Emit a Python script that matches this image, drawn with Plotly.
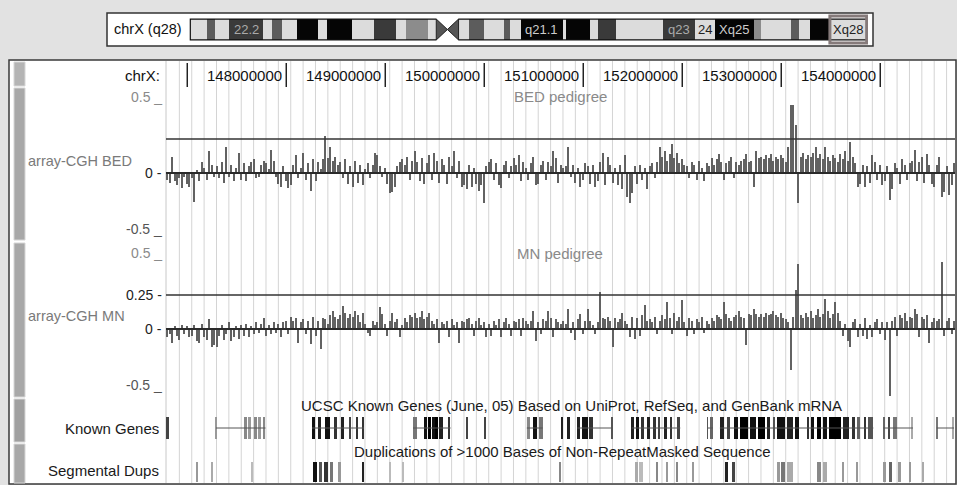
import numpy as np
import plotly.graph_objects as go

W, H = 957, 485

# ---------------- data ----------------
VIEW_START_MB = 146.785
VIEW_END_MB = 154.755
CHROM_LEN_MB = 154.82

RULER_TICKS_MB = [147, 148, 149, 150, 151, 152, 153, 154]
RULER_LABELS = ["", "148000000", "149000000", "150000000", "151000000",
                "152000000", "153000000", "154000000"]

PROBE_START_MB = 146.785
PROBE_STEP_MB = 0.025
THRESHOLD = 0.25

# array-CGH log2 ratios, in hundredths
BED_VALUES = [
    -5, -7, 12, -6, -9, -4, -11, -3, -8, -10,
    -4, -21, 2, -6, 8, 4, -5, 16, 6, -3,
    5, -4, 8, -7, 19, -3, 6, -6, 4, 15,
    -5, 7, -6, 5, 8, 10, -4, -3, 6, 9,
    7, 3, 17, 9, -3, -8, -10, 5, -6, -11,
    -9, 6, 13, -4, 4, 15, -5, 7, -13, 10,
    -6, 8, 3, 10, 27, 11, 19, 9, 12, 6,
    8, -4, 10, -8, 5, -10, 9, -7, 6, -9,
    3, 7, -4, 6, 15, 13, 5, -3, 4, -8,
    -15, -14, -10, 5, 8, 10, 6, 12, -5, 9,
    16, 8, -6, 11, -8, 7, 13, -5, 15, 9,
    -7, 10, 6, -8, 12, 5, 16, -4, 9, -10,
    -9, -12, 6, -10, 4, -8, -13, -9, -22, 5,
    8, 10, -5, 7, -9, -11, 6, 9, -4, 5,
    11, 6, 13, -6, 8, 4, -5, 7, 12, -9,
    -8, 6, 9, -5, 8, 5, 16, 11, -7, 6,
    4, 5, 19, -3, 6, -7, 4, -10, -5, 7,
    5, -8, 6, -10, -6, 8, 15, -9, 12, 6,
    -7, 4, -9, 6, -12, 13, -18, -22, -15, 5,
    -8, 6, -5, 4, -12, 5, 7, -4, 8, 19,
    12, 16, 9, 14, 21, 11, 15, 7, 10, 6,
    5, -4, 8, 6, -5, 9, 4, -6, 7, 5,
    11, 6, 10, 14, 8, -5, 7, 9, 12, -4,
    8, 6, 9, 10, 14, 8, 9, -10, 16, 11,
    12, 10, 13, 11, 14, 9, 12, 10, 13, 11,
    8, 19, 50, 50, 35, -22, 12, 15, 10, 13,
    12, 15, 19, 11, 14, 10, 19, 12, 9, 13,
    11, 8, 14, 10, 16, 9, 23, 12, 7, -10,
    -8, 6, -10, 5, -7, 13, 8, -5, 6, -9,
    -6, 5, -20, -12, 7, 4, -8, 10, 6, -5,
    7, 9, 17, -6, 8, 12, -7, 14, 6, -8,
    -10, 6, 12, -18, -14, 5, -16, -9, 7, -6,
]

MN_VALUES = [
    -6, -4, -10, 2, -5, -8, 3, -4, 2, -6,
    -5, 3, -9, -10, 4, -6, -8, 7, -13, -12,
    -13, -5, 3, -8, -4, 5, -9, -6, 2, -7,
    3, -5, 4, -6, 2, -4, 5, -3, 4, 8,
    -5, 3, -4, 5, -3, 4, -6, 5, 6, -4,
    9, 6, 8, -10, 5, 7, -4, 6, -11, 9,
    -5, 6, -15, 8, 7, 4, 10, 13, 9, 7,
    10, 17, 12, 8, 11, 9, 13, 10, 5, 12,
    4, -3, -5, 6, 3, 5, 16, 11, 4, -5,
    6, 12, 5, 7, -6, 3, 8, 5, 10, 9,
    12, 8, 9, 13, 7, 9, 12, 6, 4, 7,
    -10, 5, 4, 6, -6, 7, 3, 5, -10, 6,
    5, 7, 8, 4, -5, 6, 8, 3, 5, -6,
    4, -5, 6, 3, 7, -6, 5, 8, 4, -5,
    6, 5, 7, -5, 8, 6, 4, 6, 13, -9,
    5, -4, 7, 6, 13, 8, -6, 7, 5, 4,
    6, 4, 15, -3, 5, -8, 7, 11, -4, 6,
    15, 6, 3, -4, 5, 27, 8, 7, 9, 6,
    -13, 8, 5, 7, 12, 6, 4, -6, 9, -7,
    8, -5, 10, 18, 6, 7, 5, 9, -4, 6,
    10, 7, 20, 8, -4, 12, 6, 9, 21, 5,
    -5, 8, 6, -4, 7, 5, 9, -3, 6, 4,
    8, 6, 10, 9, 7, 20, 11, 8, 6, 9,
    10, 13, 9, 8, -12, 11, 10, 15, 11, 9,
    11, 9, 12, 10, 11, 13, 10, 9, 12, 8,
    7, 5, -30, 9, 29, 48, 10, 8, 12, 9,
    13, 8, 10, 15, 9, 11, 22, 13, 8, 11,
    20, 12, 6, -5, 4, -9, -13, 5, 7, -6,
    4, -5, 8, -7, 3, -6, 5, 7, -4, 5,
    -8, 5, -49, 6, 9, -5, 10, 8, 12, 6,
    9, 8, 15, 11, -6, 9, 7, 10, -10, 5,
    8, 6, 7, 49, -5, 6, 8, -4, 6, 5,
]

# Known Genes: transcript lines and exon blocks (Mb)
GENE_LINE_START = [147.29, 148.26, 149.28, 150.43, 150.94, 151.49, 152.25, 152.38, 154.03, 154.57]
GENE_LINE_END = [147.79, 148.785, 149.66, 150.59, 151.30, 151.98, 152.31, 153.93, 154.33, 154.745]

EXON_START = [146.795, 147.29, 147.58, 147.62, 147.68, 147.72, 147.76,
              148.26, 148.32, 148.39, 148.49, 148.56, 148.64, 148.71, 148.77,
              149.28, 149.40, 149.43, 149.47, 149.51, 149.54, 149.64, 149.825,
              150.00, 150.43, 150.49, 150.55, 150.78, 150.84,
              150.94, 150.99, 151.06, 151.29,
              151.49, 151.53, 151.59, 151.65, 151.70, 151.76, 151.82, 151.88, 151.95,
              152.25, 152.29,
              152.38, 152.45, 152.52, 152.58, 152.68, 152.76, 152.86, 152.92, 152.96,
              153.06, 153.14, 153.26, 153.30, 153.36, 153.42, 153.48, 153.62, 153.72,
              153.76, 153.84, 153.88,
              154.03, 154.08, 154.13, 154.32, 154.57, 154.72]
EXON_END = [146.812, 147.30, 147.60, 147.64, 147.70, 147.74, 147.79,
            148.29, 148.35, 148.44, 148.51, 148.58, 148.655, 148.725, 148.785,
            149.32, 149.42, 149.46, 149.50, 149.53, 149.58, 149.655, 149.84,
            150.015, 150.46, 150.53, 150.59, 150.80, 150.87,
            150.97, 151.05, 151.10, 151.30,
            151.51, 151.56, 151.61, 151.67, 151.73, 151.78, 151.85, 151.90, 151.98,
            152.26, 152.31,
            152.42, 152.48, 152.56, 152.66, 152.74, 152.84, 152.89, 152.94, 153.04,
            153.12, 153.18, 153.28, 153.33, 153.40, 153.46, 153.60, 153.68, 153.74,
            153.80, 153.86, 153.93,
            154.05, 154.10, 154.17, 154.335, 154.585, 154.745]
EXON_SHADE = ["#444", "#999", "#888", "#999", "#888", "#999", "#888",
              "#111", "#222", "#111", "#333", "#222", "#444", "#333", "#333",
              "#777", "#111", "#000", "#111", "#000", "#222", "#333", "#444",
              "#444", "#888", "#111", "#777", "#222", "#222",
              "#222", "#111", "#333", "#555",
              "#222", "#111", "#333", "#222", "#333", "#444", "#222", "#333", "#444",
              "#555", "#666",
              "#222", "#444", "#111", "#000", "#111", "#000", "#222", "#555", "#111",
              "#222", "#111", "#333", "#111", "#000", "#111", "#000", "#222", "#333",
              "#666", "#333", "#555",
              "#666", "#444", "#777", "#aaa", "#777", "#aaa"]

# Segmental duplications (Mb)
SD_START = [147.095, 147.245, 147.65, 148.27, 148.33, 148.38, 148.44, 148.52, 148.77,
            149.04, 149.17, 150.76, 151.52, 151.56, 151.74, 151.84, 151.94, 152.10,
            152.43, 152.50, 152.96, 153.00, 153.06, 153.36, 153.42, 153.62, 153.76,
            154.03, 154.09, 154.18, 154.30, 154.43]
SD_END = [147.105, 147.255, 147.665, 148.31, 148.36, 148.42, 148.47, 148.55, 148.79,
          149.055, 149.185, 150.775, 151.55, 151.60, 151.755, 151.855, 151.955, 152.115,
          152.46, 152.53, 152.99, 153.04, 153.12, 153.40, 153.46, 153.635, 153.775,
          154.06, 154.12, 154.21, 154.315, 154.445]
SD_SHADE = ["#999", "#aaa", "#bbb", "#111", "#555", "#333", "#777", "#999", "#222",
            "#bbb", "#bbb", "#888", "#aaa", "#bbb", "#888", "#999", "#888", "#999",
            "#222", "#444", "#999", "#777", "#aaa", "#888", "#aaa", "#999", "#999",
            "#999", "#666", "#999", "#999", "#aaa"]

# Ideogram bands of chrX (Mb)
BAND_START = [0, 3.9, 5.7, 8.9, 16.6, 18.8, 21, 24.4, 29.2, 31.2, 36.9, 42, 47, 49.3, 54.4,
              61.4, 63.9, 67.2, 71.8, 73.1, 75.6, 85.2, 86, 91.4, 93.4, 97.5, 103.2,
              108.2, 115.5, 120, 129, 130.7, 137.4, 139.3, 141.9, 146.4]
BAND_END = [3.9, 5.7, 8.9, 16.6, 18.8, 21, 24.4, 29.2, 31.2, 36.9, 42, 47, 49.3, 54.4, 56.3,
            63.9, 67.2, 71.8, 73.1, 75.6, 85.2, 86, 91.4, 93.4, 97.5, 103.2, 108.2,
            115.5, 120, 129, 130.7, 137.4, 139.3, 141.9, 146.4, 154.82]
BAND_STAIN = ["gneg", "gpos50", "gneg", "gpos75", "gneg", "gpos50", "gneg", "gpos100", "gneg",
              "gpos100", "gneg", "gpos75", "gneg", "gpos25", "gneg",
              "gneg", "gpos50", "gneg", "gpos50", "gneg", "gpos100", "gneg", "gpos100", "gneg",
              "gpos75", "gneg", "gneg", "gpos75", "gneg", "gpos100", "gpos25", "gneg",
              "gpos50", "gneg", "gpos100", "gneg"]
BAND_LABEL = ["", "", "", "22.2", "", "", "", "", "", "", "", "", "", "", "",
              "", "", "", "", "", "q21.1", "", "", "", "", "", "",
              "q23", "24", "Xq25", "", "", "", "", "", "Xq28"]
CENTROMERE_MB = (56.3, 61.4)
HIGHLIGHT_MB = (146.4, 154.82)

# ---------------- helpers ----------------
def px(x):
    return x / W


def py(y):
    return 1 - y / H


STAIN_COLOR = {"gneg": "#dcdcdc", "gpos25": "#8c8c8c", "gpos50": "#5c5c5c",
               "gpos75": "#3a3a3a", "gpos100": "#050505"}
STAIN_TEXT = {"gneg": "#222", "gpos25": "#eee", "gpos50": "#ddd",
              "gpos75": "#aaa", "gpos100": "#ccc"}

FONT = "Liberation Sans, Arial, sans-serif"

fig = go.Figure()

probe_pos = PROBE_START_MB + PROBE_STEP_MB * (np.arange(len(BED_VALUES)) + 0.5)

# --- wiggle tracks ---
for vals, yax in ((BED_VALUES, "y"), (MN_VALUES, "y2")):
    v = np.array(vals) / 100.0
    fig.add_trace(go.Bar(x=probe_pos, y=v, width=0.013, xaxis="x", yaxis=yax,
                         marker=dict(color="#626262", line=dict(width=0)),
                         hoverinfo="skip", showlegend=False))
    fig.add_trace(go.Scatter(x=[VIEW_START_MB, VIEW_END_MB], y=[0, 0], xaxis="x", yaxis=yax,
                             mode="lines", line=dict(color="#2a2a2a", width=2),
                             hoverinfo="skip", showlegend=False))
    fig.add_trace(go.Scatter(x=[VIEW_START_MB, VIEW_END_MB], y=[THRESHOLD, THRESHOLD],
                             xaxis="x", yaxis=yax, mode="lines",
                             line=dict(color="#333", width=1.6),
                             hoverinfo="skip", showlegend=False))

# --- known genes ---
lx, ly = [], []
for s, e in zip(GENE_LINE_START, GENE_LINE_END):
    lx += [s, e, None]
    ly += [0.5, 0.5, None]
fig.add_trace(go.Scatter(x=lx, y=ly, xaxis="x", yaxis="y3", mode="lines",
                         line=dict(color="#555", width=1), hoverinfo="skip", showlegend=False))
fig.add_trace(go.Bar(base=EXON_START, x=[e - s for s, e in zip(EXON_START, EXON_END)],
                     y=[0.5] * len(EXON_START), width=1, orientation="h",
                     xaxis="x", yaxis="y3", marker=dict(color=EXON_SHADE, line=dict(width=0)),
                     hoverinfo="skip", showlegend=False))

# --- segmental dups ---
fig.add_trace(go.Bar(base=SD_START, x=[e - s for s, e in zip(SD_START, SD_END)],
                     y=[0.5] * len(SD_START), width=1, orientation="h",
                     xaxis="x", yaxis="y4", marker=dict(color=SD_SHADE, line=dict(width=0)),
                     hoverinfo="skip", showlegend=False))

# --- ideogram ---
fig.add_trace(go.Bar(base=BAND_START, x=[e - s for s, e in zip(BAND_START, BAND_END)],
                     y=[0.5] * len(BAND_START), width=1, orientation="h",
                     xaxis="x2", yaxis="y5",
                     marker=dict(color=[STAIN_COLOR[s] for s in BAND_STAIN],
                                 line=dict(width=0)),
                     hoverinfo="skip", showlegend=False))
c0, c1 = CENTROMERE_MB
cm = (c0 + c1) / 2
fig.add_trace(go.Scatter(x=[c0, cm, c0, c0, None, c1, cm, c1, c1],
                         y=[1, 0.5, 0, 1, None, 1, 0.5, 0, 1],
                         xaxis="x2", yaxis="y5", mode="lines", fill="toself",
                         fillcolor="#555", line=dict(color="#222", width=1),
                         hoverinfo="skip", showlegend=False))
fig.add_trace(go.Scatter(x=[c0, 0, 0, c0, None, c1, CHROM_LEN_MB, CHROM_LEN_MB, c1],
                         y=[1, 1, 0, 0, None, 1, 1, 0, 0],
                         xaxis="x2", yaxis="y5", mode="lines",
                         line=dict(color="#111", width=1.2),
                         hoverinfo="skip", showlegend=False))

# ---------------- shapes ----------------
shapes = []
shapes.append(dict(type="rect", xref="paper", yref="paper", x0=px(9), x1=px(956),
                   y0=py(484), y1=py(60), fillcolor="white",
                   line=dict(color="#3a3a3a", width=1.5), layer="below"))
shapes.append(dict(type="rect", xref="paper", yref="paper", x0=px(107), x1=px(873),
                   y0=py(46), y1=py(13), fillcolor="white",
                   line=dict(color="#333", width=1.5), layer="below"))
for y0, y1, col in ((62, 86, "#b4b4b4"), (88, 240, "#a8a8a8"), (243, 397, "#a8a8a8"),
                    (399, 442, "#a0a0a0"), (444, 483, "#a8a8a8")):
    shapes.append(dict(type="rect", xref="paper", yref="paper", x0=px(14), x1=px(25),
                       y0=py(y1), y1=py(y0), fillcolor=col,
                       line=dict(color="#d6d6d6", width=1), layer="below"))
for g in np.arange(146.92, VIEW_END_MB, 0.125):
    shapes.append(dict(type="line", xref="x", yref="paper", x0=g, x1=g,
                       y0=py(483), y1=py(61), line=dict(color="#d4d4d4", width=1),
                       layer="below"))
shapes.append(dict(type="line", xref="paper", yref="paper", x0=px(166), x1=px(166),
                   y0=py(483), y1=py(61), line=dict(color="#c8c8c8", width=1), layer="below"))
for t in RULER_TICKS_MB:
    shapes.append(dict(type="line", xref="x", yref="paper", x0=t, x1=t,
                       y0=py(87), y1=py(63), line=dict(color="#222", width=1.5)))
shapes.append(dict(type="rect", xref="x2", yref="paper", x0=HIGHLIGHT_MB[0], x1=HIGHLIGHT_MB[1],
                   y0=py(43), y1=py(16), line=dict(color="#857a7a", width=3)))

# ---------------- annotations ----------------
ann = []


def text(x, y, s, size=15, color="#222", xanchor="center", xref="paper", yref="paper",
         xshift=0, yshift=0):
    ann.append(dict(x=x, y=y, text=s, xref=xref, yref=yref, showarrow=False,
                    xanchor=xanchor, yanchor="middle", xshift=xshift, yshift=yshift,
                    font=dict(family=FONT, size=size, color=color)))


text(px(112), py(29), "chrX (q28)", size=14.5, color="#111", xanchor="left")
for s, e, st, lab in zip(BAND_START, BAND_END, BAND_STAIN, BAND_LABEL):
    if lab:
        text((s + e) / 2, 0.5, lab, size=13, color=STAIN_TEXT[st], xref="x2", yref="y5")

text(px(162), py(75), "chrX:", color="#111", xanchor="right")
for t, lab in zip(RULER_TICKS_MB, RULER_LABELS):
    if lab:
        text(t, py(75), lab, color="#111", xanchor="right", xref="x", xshift=-2)

text(px(560), py(97), "BED pedigree", color="#8a8a8a")
text(px(560), py(253), "MN pedigree", color="#8a8a8a")
text(px(26), py(161), "array-CGH BED", size=14.5, color="#7a7a7a", xanchor="left")
text(px(26), py(316), "array-CGH MN", size=14.5, color="#7a7a7a", xanchor="left")
for yax in ("y", "y2"):
    text(px(164), 0.5, "0.5 _", size=14, color="#8a8a8a", xanchor="right", yref=yax, yshift=8)
    text(px(164), -0.5, "-0.5 _", size=14, color="#555", xanchor="right", yref=yax, yshift=12)
    text(px(164), 0, "0 -", size=14, color="#222", xanchor="right", yref=yax)
text(px(164), THRESHOLD, "0.25 -", size=14, color="#222", xanchor="right", yref="y2")

text(px(571), py(405), "UCSC Known Genes (June, 05) Based on UniProt, RefSeq, and GenBank mRNA",
     color="#1a1a1a")
text(px(562), py(451), "Duplications of >1000 Bases of Non-RepeatMasked Sequence", color="#1a1a1a")
text(px(161), py(428), "Known Genes", color="#1a1a1a", xanchor="right")
text(px(161), py(470), "Segmental Dups", color="#1a1a1a", xanchor="right")

# ---------------- layout ----------------
hidden = dict(visible=False, fixedrange=True, showgrid=False, zeroline=False)
fig.update_layout(
    width=W, height=H, margin=dict(l=0, r=0, t=0, b=0),
    paper_bgcolor="#e2e2e2", plot_bgcolor="rgba(0,0,0,0)",
    barmode="overlay", bargap=0, showlegend=False,
    xaxis=dict(domain=[px(166), px(955)], range=[VIEW_START_MB, VIEW_END_MB], anchor="y", **hidden),
    yaxis=dict(domain=[py(241), py(105)], range=[-0.5, 0.5], anchor="x", **hidden),
    yaxis2=dict(domain=[py(397), py(261)], range=[-0.5, 0.5], anchor="x", **hidden),
    yaxis3=dict(domain=[py(439), py(417)], range=[0, 1], anchor="x", **hidden),
    yaxis4=dict(domain=[py(482), py(462)], range=[0, 1], anchor="x", **hidden),
    xaxis2=dict(domain=[px(189), px(868)], range=[-0.3, CHROM_LEN_MB + 0.3], anchor="y5", **hidden),
    yaxis5=dict(domain=[py(41), py(18)], range=[-0.05, 1.05], anchor="x2", **hidden),
    shapes=shapes, annotations=ann,
)

fig.write_html("out.html", config={"displayModeBar": False},
               post_script="document.body.style.margin='0';document.body.style.overflow='hidden';")
